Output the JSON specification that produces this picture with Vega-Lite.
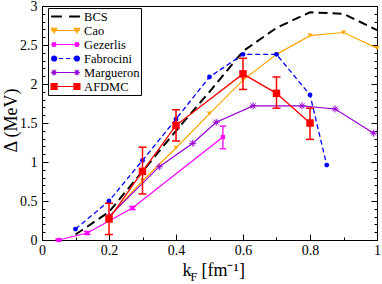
{
  "$schema": "https://vega.github.io/schema/vega-lite/v6.json",
  "width": 335,
  "height": 234,
  "autosize": {"type": "none"},
  "padding": {"left": 42, "top": 6, "right": 5, "bottom": 44},
  "config": {
    "view": {"stroke": "black", "strokeWidth": 1},
    "font": "Liberation Serif",
    "axis": {
      "grid": false,
      "labelFont": "Liberation Serif",
      "labelFontSize": 14,
      "labelColor": "black",
      "labelFlush": false,
      "labelOverlap": false,
      "tickColor": "black",
      "domainColor": "black",
      "titleFont": "Liberation Serif",
      "titleFontWeight": "normal",
      "titleColor": "black"
    }
  },
  "data": {
    "values": [
      {"s": "BCS", "k": 0.1, "d": 0.07},
      {"s": "BCS", "k": 0.2, "d": 0.36},
      {"s": "BCS", "k": 0.3, "d": 0.88},
      {"s": "BCS", "k": 0.4, "d": 1.4},
      {"s": "BCS", "k": 0.5, "d": 1.9},
      {"s": "BCS", "k": 0.6, "d": 2.42},
      {"s": "BCS", "k": 0.7, "d": 2.72},
      {"s": "BCS", "k": 0.8, "d": 2.92},
      {"s": "BCS", "k": 0.9, "d": 2.9},
      {"s": "BCS", "k": 1.0, "d": 2.69},
      {"s": "Cao", "k": 0.2, "d": 0.3},
      {"s": "Cao", "k": 0.3, "d": 0.76},
      {"s": "Cao", "k": 0.4, "d": 1.18},
      {"s": "Cao", "k": 0.5, "d": 1.62},
      {"s": "Cao", "k": 0.6, "d": 2.05},
      {"s": "Cao", "k": 0.7, "d": 2.38},
      {"s": "Cao", "k": 0.8, "d": 2.62},
      {"s": "Cao", "k": 0.9, "d": 2.66},
      {"s": "Cao", "k": 1.0, "d": 2.46},
      {"s": "Gezerlis", "k": 0.05, "d": 0.0, "lo": -0.01, "hi": 0.01},
      {"s": "Gezerlis", "k": 0.135, "d": 0.09, "lo": 0.07, "hi": 0.11},
      {"s": "Gezerlis", "k": 0.27, "d": 0.41, "lo": 0.39, "hi": 0.43},
      {"s": "Gezerlis", "k": 0.54, "d": 1.32, "lo": 1.17, "hi": 1.46},
      {"s": "Fabrocini", "k": 0.1, "d": 0.14},
      {"s": "Fabrocini", "k": 0.2, "d": 0.5},
      {"s": "Fabrocini", "k": 0.3, "d": 1.02},
      {"s": "Fabrocini", "k": 0.4, "d": 1.55},
      {"s": "Fabrocini", "k": 0.5, "d": 2.09},
      {"s": "Fabrocini", "k": 0.6, "d": 2.38},
      {"s": "Fabrocini", "k": 0.7, "d": 2.38},
      {"s": "Fabrocini", "k": 0.8, "d": 1.86},
      {"s": "Fabrocini", "k": 0.85, "d": 0.96},
      {"s": "Margueron", "k": 0.2, "d": 0.3},
      {"s": "Margueron", "k": 0.35, "d": 0.94},
      {"s": "Margueron", "k": 0.45, "d": 1.24},
      {"s": "Margueron", "k": 0.52, "d": 1.51},
      {"s": "Margueron", "k": 0.63, "d": 1.72},
      {"s": "Margueron", "k": 0.776, "d": 1.72},
      {"s": "Margueron", "k": 0.875, "d": 1.68},
      {"s": "Margueron", "k": 0.99, "d": 1.37},
      {"s": "AFDMC", "k": 0.2, "d": 0.27, "lo": 0.07, "hi": 0.47},
      {"s": "AFDMC", "k": 0.3, "d": 0.88, "lo": 0.59, "hi": 1.19},
      {"s": "AFDMC", "k": 0.4, "d": 1.47, "lo": 1.27, "hi": 1.67},
      {"s": "AFDMC", "k": 0.6, "d": 2.13, "lo": 1.93, "hi": 2.33},
      {"s": "AFDMC", "k": 0.7, "d": 1.88, "lo": 1.69, "hi": 2.09},
      {"s": "AFDMC", "k": 0.8, "d": 1.5, "lo": 1.29, "hi": 1.69}
    ]
  },
  "encoding": {
    "x": {"field": "k", "type": "quantitative", "scale": {"domain": [0, 1], "nice": false, "zero": false}, "axis": null},
    "y": {"field": "d", "type": "quantitative", "scale": {"domain": [0, 3], "nice": false, "zero": false}, "axis": null}
  },
  "layer": [
    {
      "transform": [{"filter": "datum.s === 'BCS'"}],
      "mark": {"type": "line", "stroke": "black", "strokeWidth": 2, "strokeDash": [9, 5]},
      "encoding": {
        "x": {"field": "k", "type": "quantitative", "scale": {"domain": [0, 1], "nice": false, "zero": false},
          "axis": {"orient": "bottom", "values": [0, 0.2, 0.4, 0.6, 0.8, 1], "labelExpr": "'' + datum.value", "tickSize": -6, "labelPadding": 9,
            "title": "k", "titleFontSize": 18, "titleX": 140, "titleY": 35, "titleAlign": "left", "titleAnchor": "start", "titleBaseline": "alphabetic"}},
        "y": {"field": "d", "type": "quantitative", "scale": {"domain": [0, 3], "nice": false, "zero": false},
          "axis": {"orient": "left", "values": [0, 0.5, 1, 1.5, 2, 2.5, 3], "labelExpr": "'' + datum.value", "tickSize": -6, "labelPadding": 11,
            "title": "Δ (MeV)", "titleFontSize": 18, "titleAngle": -90, "titleX": -26, "titleY": 114, "titleAlign": "center", "titleAnchor": "middle", "titleBaseline": "alphabetic"}}
      }
    },
    {
      "transform": [{"filter": "datum.s === 'Cao'"}],
      "mark": {"type": "line", "stroke": "#FFA500", "strokeWidth": 1.2},
      "encoding": {
        "x": {"field": "k", "type": "quantitative",
          "axis": {"orient": "bottom", "values": [0.1, 0.3, 0.5, 0.7, 0.9], "tickSize": -3, "labels": false, "domain": false, "title": null}},
        "y": {"field": "d", "type": "quantitative",
          "axis": {"orient": "left", "values": [0.1, 0.2, 0.3, 0.4, 0.6, 0.7, 0.8, 0.9, 1.1, 1.2, 1.3, 1.4, 1.6, 1.7, 1.8, 1.9, 2.1, 2.2, 2.3, 2.4, 2.6, 2.7, 2.8, 2.9], "tickSize": -3, "labels": false, "domain": false, "title": null}}
      }
    },
    {
      "transform": [{"filter": "datum.s === 'Cao'"}],
      "mark": {"type": "point", "shape": "triangle-down", "filled": true, "fill": "#FFA500", "size": 24, "opacity": 1}
    },
    {
      "transform": [{"filter": "datum.s === 'Gezerlis'"}],
      "mark": {"type": "line", "stroke": "#FF00FF", "strokeWidth": 1.2},
      "encoding": {
        "y": {"field": "d", "type": "quantitative",
          "axis": {"orient": "right", "values": [0, 0.5, 1, 1.5, 2, 2.5, 3], "tickSize": -6, "labels": false, "title": null}}
      }
    },
    {
      "transform": [{"filter": "datum.s === 'Gezerlis'"}],
      "mark": {"type": "rule", "stroke": "#FF00FF", "strokeWidth": 1.3},
      "encoding": {
        "y": {"field": "lo", "type": "quantitative", "axis": null},
        "y2": {"field": "hi"}
      }
    },
    {
      "transform": [{"filter": "datum.s === 'Gezerlis'"}],
      "mark": {"type": "point", "shape": "stroke", "size": 44, "stroke": "#FF00FF", "strokeWidth": 1.3, "filled": false, "opacity": 1},
      "encoding": {"y": {"field": "lo", "type": "quantitative", "axis": null}}
    },
    {
      "transform": [{"filter": "datum.s === 'Gezerlis'"}],
      "mark": {"type": "point", "shape": "stroke", "size": 44, "stroke": "#FF00FF", "strokeWidth": 1.3, "filled": false, "opacity": 1},
      "encoding": {"y": {"field": "hi", "type": "quantitative", "axis": null}}
    },
    {
      "transform": [{"filter": "datum.s === 'Gezerlis'"}],
      "mark": {"type": "point", "shape": "square", "filled": true, "fill": "#FF00FF", "size": 18, "opacity": 1}
    },
    {
      "transform": [{"filter": "datum.s === 'Fabrocini'"}],
      "mark": {"type": "line", "stroke": "#0000FF", "strokeWidth": 1.3, "strokeDash": [5, 3]},
      "encoding": {
        "y": {"field": "d", "type": "quantitative",
          "axis": {"orient": "right", "values": [0.1, 0.2, 0.3, 0.4, 0.6, 0.7, 0.8, 0.9, 1.1, 1.2, 1.3, 1.4, 1.6, 1.7, 1.8, 1.9, 2.1, 2.2, 2.3, 2.4, 2.6, 2.7, 2.8, 2.9], "tickSize": -3, "labels": false, "domain": false, "title": null}}
      }
    },
    {
      "transform": [{"filter": "datum.s === 'Fabrocini'"}],
      "mark": {"type": "point", "shape": "circle", "filled": true, "fill": "#0000FF", "size": 24, "opacity": 1}
    },
    {
      "transform": [{"filter": "datum.s === 'Margueron'"}],
      "mark": {"type": "line", "stroke": "#9400D3", "strokeWidth": 1.2},
      "encoding": {
        "x": {"field": "k", "type": "quantitative",
          "axis": {"orient": "bottom", "ticks": false, "labels": false, "domain": false, "title": "F", "titleFontSize": 12, "titleX": 148, "titleY": 40, "titleAlign": "left", "titleAnchor": "start", "titleBaseline": "alphabetic"}}
      }
    },
    {
      "transform": [{"filter": "datum.s === 'Margueron'"}],
      "mark": {"type": "point", "shape": "M-1,0L1,0M0,-1L0,1M-0.7,-0.7L0.7,0.7M-0.7,0.7L0.7,-0.7", "filled": false, "stroke": "#9400D3", "strokeWidth": 1, "size": 50, "opacity": 1}
    },
    {
      "transform": [{"filter": "datum.s === 'AFDMC'"}],
      "mark": {"type": "line", "stroke": "#FF0000", "strokeWidth": 1.3},
      "encoding": {
        "x": {"field": "k", "type": "quantitative",
          "axis": {"orient": "bottom", "ticks": false, "labels": false, "domain": false, "title": "[fm⁻¹]", "titleFontSize": 18, "titleX": 159, "titleY": 35, "titleAlign": "left", "titleAnchor": "start", "titleBaseline": "alphabetic"}}
      }
    },
    {
      "transform": [{"filter": "datum.s === 'AFDMC'"}],
      "mark": {"type": "rule", "stroke": "#FF0000", "strokeWidth": 1.5},
      "encoding": {
        "y": {"field": "lo", "type": "quantitative", "axis": null},
        "y2": {"field": "hi"}
      }
    },
    {
      "transform": [{"filter": "datum.s === 'AFDMC'"}],
      "mark": {"type": "point", "shape": "stroke", "size": 64, "stroke": "#FF0000", "strokeWidth": 1.5, "filled": false, "opacity": 1},
      "encoding": {"y": {"field": "lo", "type": "quantitative", "axis": null}}
    },
    {
      "transform": [{"filter": "datum.s === 'AFDMC'"}],
      "mark": {"type": "point", "shape": "stroke", "size": 64, "stroke": "#FF0000", "strokeWidth": 1.5, "filled": false, "opacity": 1},
      "encoding": {"y": {"field": "hi", "type": "quantitative", "axis": null}}
    },
    {
      "transform": [{"filter": "datum.s === 'AFDMC'"}],
      "mark": {"type": "point", "shape": "square", "filled": true, "fill": "#FF0000", "size": 56, "opacity": 1}
    },
    {
      "mark": {"type": "point", "filled": false, "opacity": 0},
      "encoding": {
        "color": {"field": "s", "type": "nominal",
          "scale": {"domain": ["BCS", "Cao", "Gezerlis", "Fabrocini", "Margueron", "AFDMC"], "range": ["black", "#FFA500", "#FF00FF", "#0000FF", "#9400D3", "#FF0000"]},
          "legend": {"orient": "none", "legendX": 6, "legendY": 2, "title": null, "padding": 1.5, "strokeColor": "black", "fillColor": "white",
            "labelFont": "Liberation Serif", "labelFontSize": 12.5, "labelColor": "black", "symbolSize": 144, "symbolStrokeWidth": 1.2,
            "labelOffset": 20.6, "rowPadding": -2, "symbolOpacity": 1}},
        "shape": {"field": "s", "type": "nominal",
          "scale": {"domain": ["BCS", "Cao", "Gezerlis", "Fabrocini", "Margueron", "AFDMC"],
            "range": [
              "M-0.9,-0.08L0.9,-0.08M-0.9,0.08L0.9,0.08M2.1,-0.08L3.9,-0.08M2.1,0.08L3.9,0.08",
              "M-0.9,0L3.9,0M-0.85,-0.35L0.05,-0.35L-0.4,0.4ZM-0.808,-0.28h0.816M-0.724,-0.14h0.648M-0.64,0h0.48M-0.556,0.14h0.312M-0.472,0.28h0.144M2.95,-0.35L3.85,-0.35L3.4,0.4ZM2.992,-0.28h0.816M3.076,-0.14h0.648M3.16,0h0.48M3.244,0.14h0.312M3.328,0.28h0.144",
              "M-0.9,0L3.9,0M-0.75,-0.27h0.7M-0.75,-0.13h0.7M-0.75,0.13h0.7M-0.75,0.27h0.7M3.05,-0.27h0.7M3.05,-0.13h0.7M3.05,0.13h0.7M3.05,0.27h0.7",
              "M-0.9,0L-0.1,0M0.4,0L1.1,0M1.6,0L2.3,0M2.8,0L3.9,0M-0.82,0a0.42,0.42 0 1,0 0.84,0a0.42,0.42 0 1,0 -0.84,0ZM-0.694,-0.3h0.588M-0.792,-0.15h0.784M-0.694,0.3h0.588M-0.792,0.15h0.784M-0.82,0h0.84M2.98,0a0.42,0.42 0 1,0 0.84,0a0.42,0.42 0 1,0 -0.84,0ZM3.106,-0.3h0.588M3.008,-0.15h0.784M3.106,0.3h0.588M3.008,0.15h0.784M2.98,0h0.84",
              "M-0.9,0L3.9,0M-0.9,0h1M-0.4,-0.5v1M-0.75,-0.35l0.7,0.7M-0.75,0.35l0.7,-0.7M2.9,0h1M3.4,-0.5v1M3.05,-0.35l0.7,0.7M3.05,0.35l0.7,-0.7",
              "M-0.9,0L3.9,0M-1,-0.5h1.2M-1,-0.35h1.2M-1,-0.2h1.2M-1,-0.05h1.2M-1,0.1h1.2M-1,0.25h1.2M-1,0.4h1.2M-1,0.5h1.2M2.8,-0.5h1.2M2.8,-0.35h1.2M2.8,-0.2h1.2M2.8,-0.05h1.2M2.8,0.1h1.2M2.8,0.25h1.2M2.8,0.4h1.2M2.8,0.5h1.2"
            ]}}
      }
    }
  ],
  "resolve": {"axis": {"x": "independent", "y": "independent"}}
}
